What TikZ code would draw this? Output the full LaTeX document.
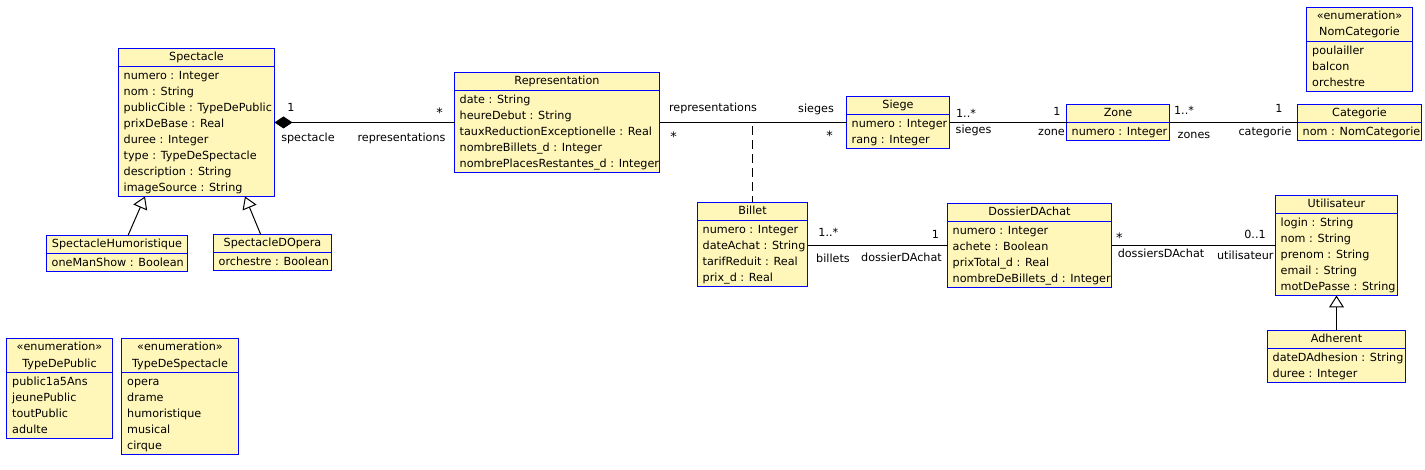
\documentclass[tikz,border=0pt]{standalone}
\usepackage{fontspec}
\setmainfont{DejaVu Sans}
\usetikzlibrary{arrows.meta}
\definecolor{umlfill}{RGB}{255,247,185}
\definecolor{umlblue}{RGB}{0,0,255}
\newcommand\uf{\fontsize{11.2pt}{16pt}\selectfont}
\newcommand\bigf{\fontsize{13pt}{16pt}\selectfont}
\newcommand\ls{\rule[-3.5pt]{0pt}{16pt}}
\tikzset{
  clsbox/.style={draw=umlblue, fill=umlfill, line width=1pt, anchor=north west, inner sep=0pt, outer sep=0pt},
  sepline/.style={draw=umlblue, line width=1pt},
  ttl/.style={anchor=base, inner sep=0pt, font=\uf},
  attrs/.style={anchor=north west, inner sep=0pt, align=left, font=\uf},
  lbl/.style={anchor=base, inner sep=0pt, font=\uf},
  star/.style={anchor=base, inner sep=0pt, font=\bigf},
  assoc/.style={draw=black, line width=1pt},
  comp/.style={assoc, arrows={Diamond[length=18pt,width=12pt]-}},
  gen/.style={assoc, arrows={-Triangle[open,length=12pt,width=15pt]}},
  dep/.style={assoc, dash pattern=on 9pt off 5pt, dash phase=10.3pt},
}
% name, x, y, width, number of rows, title, rows
\newcommand\umlclass[7]{%
  \node[clsbox, minimum width=#4pt, minimum height={20pt+16pt*#5}] (#1) at (#2,#3) {};
  \draw[sepline] ([yshift=-18pt]#1.north west) -- ([yshift=-18pt]#1.north east);
  \node[ttl] (#1-t) at ([yshift=-12.5pt]#1.north) {#6};
  \node[attrs] (#1-a) at ([xshift=5pt,yshift=-18pt]#1.north west) {#7};
}
\newcommand\umlenum[7]{%
  \node[clsbox, minimum width=#4pt, minimum height={36pt+16pt*#5}] (#1) at (#2,#3) {};
  \draw[sepline] ([yshift=-34pt]#1.north west) -- ([yshift=-34pt]#1.north east);
  \node[ttl] (#1-s) at ([yshift=-12.5pt]#1.north) {«enumeration»};
  \node[ttl] (#1-t) at ([yshift=-28.5pt]#1.north) {#6};
  \node[attrs] (#1-a) at ([xshift=5.5pt,yshift=-34pt]#1.north west) {#7};
}
\begin{document}
\begin{tikzpicture}[x=1pt,y=-1pt]
\fill[white] (0,0) rectangle (1425,470);
\useasboundingbox (0,0) rectangle (1425,470);

\umlclass{spectacle}{118.5}{48.5}{156}{8}{Spectacle}{\ls numero : Integer\\\ls nom : String\\\ls publicCible : TypeDePublic\\\ls prixDeBase : Real\\\ls duree : Integer\\\ls type : TypeDeSpectacle\\\ls description : String\\\ls imageSource : String}
\umlclass{sh}{46.5}{235.5}{141}{1}{SpectacleHumoristique}{\ls oneManShow : Boolean}
\umlclass{sdo}{213.5}{234.5}{118}{1}{SpectacleDOpera}{\ls orchestre : Boolean}
\umlclass{representation}{454.5}{72.5}{205}{5}{Representation}{\ls date : String\\\ls heureDebut : String\\\ls tauxReductionExceptionelle : Real\\\ls nombreBillets\_d : Integer\\\ls nombrePlacesRestantes\_d : Integer}
\umlclass{siege}{846.5}{96.5}{103}{2}{Siege}{\ls numero : Integer\\\ls rang : Integer}
\umlclass{zone}{1066.5}{104.5}{103}{1}{Zone}{\ls numero : Integer}
\umlclass{categorie}{1297.5}{104.5}{124}{1}{Categorie}{\ls nom : NomCategorie}
\umlenum{nomcat}{1306.5}{7.5}{106}{3}{NomCategorie}{\ls poulailler\\\ls balcon\\\ls orchestre}
\umlclass{billet}{697.5}{202.5}{110}{4}{Billet}{\ls numero : Integer\\\ls dateAchat : String\\\ls tarifReduit : Real\\\ls prix\_d : Real}
\umlclass{dossier}{947.5}{203.5}{164}{4}{DossierDAchat}{\ls numero : Integer\\\ls achete : Boolean\\\ls prixTotal\_d : Real\\\ls nombreDeBillets\_d : Integer}
\umlclass{utilisateur}{1275.5}{195.5}{122}{5}{Utilisateur}{\ls login : String\\\ls nom : String\\\ls prenom : String\\\ls email : String\\\ls motDePasse : String}
\umlclass{adherent}{1267.5}{330.5}{138}{2}{Adherent}{\ls dateDAdhesion : String\\\ls duree : Integer}
\umlenum{typepublic}{6.5}{338.5}{106}{4}{TypeDePublic}{\ls public1a5Ans\\\ls jeunePublic\\\ls toutPublic\\\ls adulte}
\umlenum{typespectacle}{121.5}{338.5}{117}{5}{TypeDeSpectacle}{\ls opera\\\ls drame\\\ls humoristique\\\ls musical\\\ls cirque}

% connectors
\draw[comp] (spectacle.east) -- (representation.west);
\draw[assoc] (representation.east) -- (siege.west);
\draw[assoc] (siege.east) -- (zone.west);
\draw[assoc] (zone.east) -- (categorie.west);
\draw[assoc] (billet.east |- dossier.west) -- (dossier.west);
\draw[assoc] (dossier.east) -- (utilisateur.west);
\coordinate (repsiege) at (billet.north |- representation.east);
\draw[dep] (repsiege) -- (billet.north);
\draw[gen] ([xshift=11pt]sh.north) -- ([xshift=-51.5pt]spectacle.south);
\draw[gen] ([xshift=-11.8pt]sdo.north) -- ([xshift=48.5pt]spectacle.south);
\draw[gen] (adherent.north) -- (utilisateur.south);

% labels
\node[lbl] (l1) at (291,112) {1};
\node[lbl] (l2) at (308,141.5) {spectacle};
\node[star] (l3) at (439.5,117.8) {*};
\node[lbl] (l4) at (401.5,142) {representations};
\node[lbl] (l5) at (713,112) {representations};
\node[star] (l6) at (673.5,142) {*};
\node[lbl] (l7) at (816,112.5) {sieges};
\node[star] (l8) at (829.5,140.5) {*};
\node[lbl] (l9) at (966,118) {1..*};
\node[lbl] (l10) at (973.5,133.5) {sieges};
\node[lbl] (l11) at (1057,116) {1};
\node[lbl] (l12) at (1051.5,136) {zone};
\node[lbl] (l13) at (1184,115) {1..*};
\node[lbl] (l14) at (1194,139) {zones};
\node[lbl] (l15) at (1279,113) {1};
\node[lbl] (l16) at (1265,136) {categorie};
\node[lbl] (l17) at (828.3,237) {1..*};
\node[lbl] (l18) at (833,263) {billets};
\node[lbl] (l19) at (935.5,238.5) {1};
\node[lbl] (l20) at (901.5,261.5) {dossierDAchat};
\node[star] (l21) at (1119.3,242.7) {*};
\node[lbl] (l22) at (1161,258) {dossiersDAchat};
\node[lbl] (l23) at (1255,239) {0..1};
\node[lbl] (l24) at (1245.3,259.5) {utilisateur};
\end{tikzpicture}
\end{document}
